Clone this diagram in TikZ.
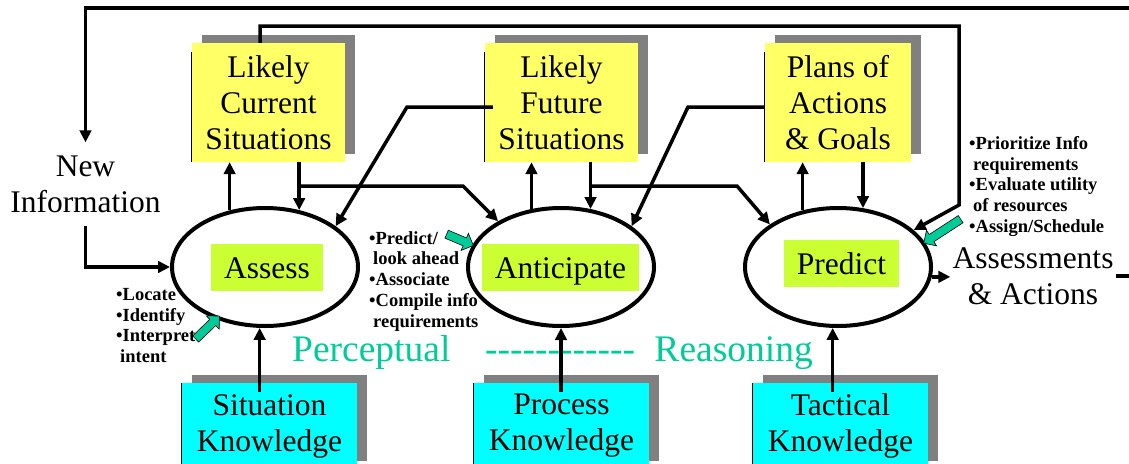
\documentclass[tikz,border=0pt]{standalone}
\usepackage{fontspec}
\setmainfont{Liberation Serif}
\usetikzlibrary{arrows.meta,shapes.geometric,shapes.arrows,shadows}
\definecolor{boxyellow}{RGB}{255,255,102}
\definecolor{boxcyan}{RGB}{0,255,255}
\definecolor{taglime}{RGB}{204,255,51}
\definecolor{shadowgray}{RGB}{128,128,128}
\definecolor{phasegreen}{RGB}{0,204,153}
\newcommand\boxfont{\fontsize{31.5}{36}\selectfont}
\newcommand\listfont{\fontsize{18.5}{20.8}\selectfont\bfseries}
\newcommand\phasefont{\fontsize{37.5}{40}\selectfont}
\tikzset{
  panel/.style={minimum height=119pt, inner sep=0pt, align=center, font=\boxfont,
    drop shadow={shadow xshift=10pt, shadow yshift=8pt, opacity=1, fill=shadowgray}},
  stage/.style={ellipse, draw, line width=4pt, minimum width=186pt, minimum height=118pt, inner sep=0pt},
  stagetag/.style={fill=taglime, minimum height=47pt, inner sep=0pt, font=\boxfont, text height=21pt, text depth=0pt},
  flow/.style={line width=3.5pt, -{Triangle[length=12pt,width=11.5pt]}},
  hint/.style={single arrow, draw=black, line width=0.6pt, fill=phasegreen, inner sep=4pt, single arrow head extend=5pt},
  bullets/.style={align=left, anchor=north west, inner sep=0pt, font=\listfont},
  phase/.style={font=\phasefont, text=phasegreen, inner sep=0pt},
}
\begin{document}
\begin{tikzpicture}[x=1pt, y=-1pt]
  \useasboundingbox (0,0) rectangle (1129,463);
  \clip (0,0) rectangle (1129,463);
  % situation and plan panels
  \foreach \nm/\x/\w/\txt in {lcs/268.5/153/{Likely\\Current\\Situations}, lfs/561.5/153/{Likely\\Future\\Situations},
      pag/838/146/{Plans of\\Actions\\\& Goals}} {
    \node[panel, fill=boxyellow, minimum width=\w] (\nm) at (\x,102.5) {\txt};
    \draw[line width=1pt] ([yshift=-9pt]\nm.north west) -- (\nm.south west);
  }
  % knowledge panels
  \foreach \nm/\x/\txt in {sk/269.5/{Situation\\Knowledge}, pk/561.5/{Process\\Knowledge}, tk/840.5/{Tactical\\Knowledge}} {
    \node[panel, fill=boxcyan, minimum width=175, minimum height=86] (\nm) at (\x,426) {\txt};
    \draw[line width=1pt] (\nm.north west) -- (\nm.south west);
  }
  \node[stage] (assess) at (265,267) {};
  \node[stage] (anticip) at (561,267) {};
  \node[stage] (predict) at (838,267) {};
  \node[stagetag, minimum width=112] (assesstag) at (267,267.5) {Assess};
  \node[stagetag, minimum width=157] (anticiptag) at (560.5,267.5) {Anticipate};
  \node[stagetag, minimum width=115] (predicttag) at (841.5,263.5) {Predict};
  \node[font=\boxfont, align=center, inner xsep=0pt, inner ysep=13pt] (newinfo) at (85.5,184) {New\\Information};
  \node[font=\boxfont, align=center, inner sep=2pt] (out) at (1033,276) {Assessments\\\& Actions};
  \node[bullets] (assesslist) at (116,288) {•Locate\\•Identify\\•Interpret\\\hspace*{4pt}intent};
  \node[bullets] (anticiplist) at (369,231) {•Predict/\\\hspace*{4pt}look ahead\\•Associate\\•Compile info\\\hspace*{4pt}requirements};
  \node[bullets] (predictlist) at (969,136) {•Prioritize Info\\\hspace*{4pt}requirements\\•Evaluate utility\\\hspace*{4pt}of resources\\•Assign/Schedule};
  \node[phase, anchor=base west] (perc) at (292,361) {Perceptual};
  \node[phase, anchor=base west] (dashes) at (485,361) {-{}-{}-{}-{}-{}-{}-{}-{}-{}-{}-{}-};
  \node[phase, anchor=base east] (reas) at (813,361) {Reasoning};
  % feedback loops
  \coordinate (rim) at (1132,8);
  \coordinate (loopA) at (959,26);
  \coordinate (loopB) at (959,205);
  \draw[flow] (rim) -| (newinfo.north);
  \draw[flow] ([xshift=-8.5pt]lcs.north) |- (loopA) -- (loopB) -- (predict.26);
  \draw[flow] (newinfo.south) |- (assess.west);
  \foreach \st/\pn/\up/\dn in {assess/lcs/122/59, anticip/lfs/117/63, predict/pag/122/67} {
    \draw[flow] (\st.\up) -- (\st.\up |- \pn.south);
    \draw[flow] (\st.\dn |- \pn.south) -- (\st.\dn);
  }
  \foreach \st/\pn/\an in {assess/sk/265, anticip/pk/270, predict/tk/265}
    \draw[flow, shorten <=-9pt] (\st.\an |- \pn.north) -- (\st.\an);
  % cross links between stages
  \coordinate (brA) at (463,186);
  \coordinate (brB) at (737,186);
  \coordinate (kneeA) at (407,107);
  \coordinate (kneeB) at (688,107);
  \draw[flow] (assess.59 |- brA) -- (brA) -- (anticip.144);
  \draw[flow] (anticip.63 |- brB) -- (brB) -- (predict.148);
  \draw[flow, shorten <=-8pt] (lfs.west |- kneeA) -- (kneeA) -- (assess.30);
  \draw[flow] (pag.west |- kneeB) -- (kneeB) -- (anticip.30);
  \draw[flow] (predict.354) -- (predict.354 -| out.west);
  \draw[line width=3.5pt] (out.east) -- (out.east -| rim);
  \node[hint, minimum height=33pt, rotate=44] (assesshint) at (206,329) {};
  \node[hint, minimum height=29pt, rotate=-23] (anticiphint) at (458,239) {};
  \node[hint, minimum height=44pt, rotate=213] (predicthint) at (944,230) {};
\end{tikzpicture}
\end{document}
